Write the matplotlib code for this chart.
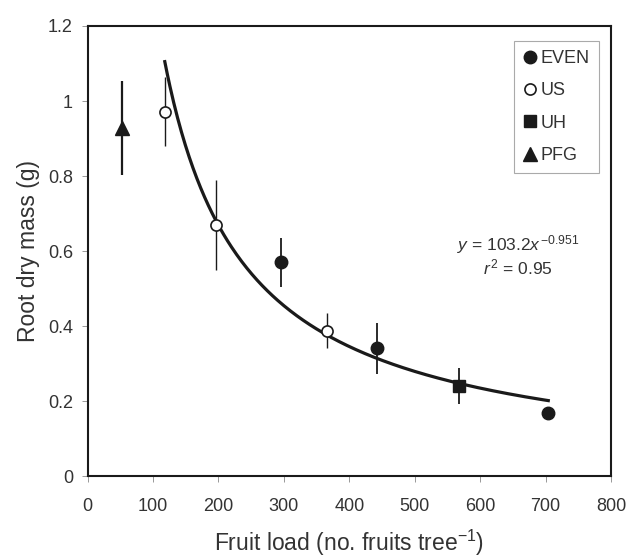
import numpy as np
import matplotlib.pyplot as plt
from matplotlib.lines import Line2D

plt.rcParams['font.family'] = ['Liberation Sans', 'DejaVu Sans']
plt.rcParams['mathtext.fontset'] = 'custom'
plt.rcParams['mathtext.rm'] = 'Liberation Sans'
plt.rcParams['mathtext.it'] = 'Liberation Sans:italic'

# fruit load, root dry mass, error
even_x = [296, 442, 704]
even_y = [0.570, 0.341, 0.168]
even_err = [0.066, 0.068, 0.0]

us_x = [119, 197, 366]
us_y = [0.971, 0.669, 0.388]
us_err = [0.092, 0.12, 0.047]

uh_x = [568]
uh_y = [0.240]
uh_err = [0.048]

pfg_x = [53]
pfg_y = [0.928]
pfg_err = [0.125]

# power fit y = a * x^b
fit_a = 103.2
fit_b = -0.951
fit_x0, fit_x1 = 118, 704

ink = '#1a1a1a'
grey_txt = '#333333'

fig = plt.figure(figsize=(6.3, 5.59), dpi=100)
ax = fig.add_axes([0.139, 0.1476, 0.831, 0.806])

xx = np.linspace(fit_x0, fit_x1, 300)
ax.plot(xx, fit_a * xx ** fit_b, color=ink, lw=2.3, zorder=2)

ax.errorbar(pfg_x, pfg_y, yerr=pfg_err, fmt='^', color=ink, ms=10,
            elinewidth=1.6, capsize=0, zorder=3)
ax.errorbar(uh_x, uh_y, yerr=uh_err, fmt='s', color=ink, ms=9,
            elinewidth=1.3, capsize=0, zorder=3)
ax.errorbar(us_x, us_y, yerr=us_err, fmt='o', color=ink, mfc='white',
            mec=ink, mew=1.2, ms=8, elinewidth=1.0, capsize=0, zorder=4)
ax.errorbar(even_x, even_y, yerr=even_err, fmt='o', color=ink, ms=9,
            elinewidth=1.3, capsize=0, zorder=3)

ax.set_xlim(0, 800)
ax.set_ylim(0, 1.2)
ax.set_xticks(np.arange(0, 801, 100))
ax.set_yticks([0, 0.2, 0.4, 0.6, 0.8, 1.0, 1.2])
ax.set_yticklabels(['0', '0.2', '0.4', '0.6', '0.8', '1', '1.2'])

for s in ax.spines.values():
    s.set_linewidth(1.5)
    s.set_color(ink)
ax.tick_params(direction='out', length=4.5, width=0.6, color='#888888',
               labelsize=13, labelcolor=grey_txt)
ax.tick_params(axis='x', pad=11)
ax.tick_params(axis='y', pad=6)

ax.set_xlabel('Fruit load (no. fruits tree$^{-1}$)', fontsize=16.5, color=grey_txt, labelpad=9)
ax.set_ylabel('Root dry mass (g)', fontsize=16.5, color=grey_txt, labelpad=6)

ax.text(658, 0.603, '$y$ = 103.2$x$$^{\\,\\mathregular{-0.951}}$', ha='center', va='baseline',
        fontsize=12.5, color=grey_txt)
ax.text(658, 0.537, '$r$$^{\\,2}$ = 0.95', ha='center', va='baseline',
        fontsize=12.5, color=grey_txt)

handles = [
    Line2D([], [], ls='none', marker='o', color=ink, ms=9),
    Line2D([], [], ls='none', marker='o', color=ink, mfc='white', mew=1.2, ms=8),
    Line2D([], [], ls='none', marker='s', color=ink, ms=9),
    Line2D([], [], ls='none', marker='^', color=ink, ms=10),
]
labels = ['EVEN', 'US', 'UH', 'PFG']
leg = ax.legend(handles, labels, loc='upper right', bbox_to_anchor=(0.977, 0.967),
                borderaxespad=0, fontsize=13, frameon=True, fancybox=False,
                edgecolor='#aaaaaa', framealpha=1, handlelength=0.8, handletextpad=0.2,
                labelspacing=0.85, borderpad=0.5)
leg.get_frame().set_linewidth(0.8)
for t in leg.get_texts():
    t.set_color(grey_txt)

fig.savefig('out.png', dpi=100)
